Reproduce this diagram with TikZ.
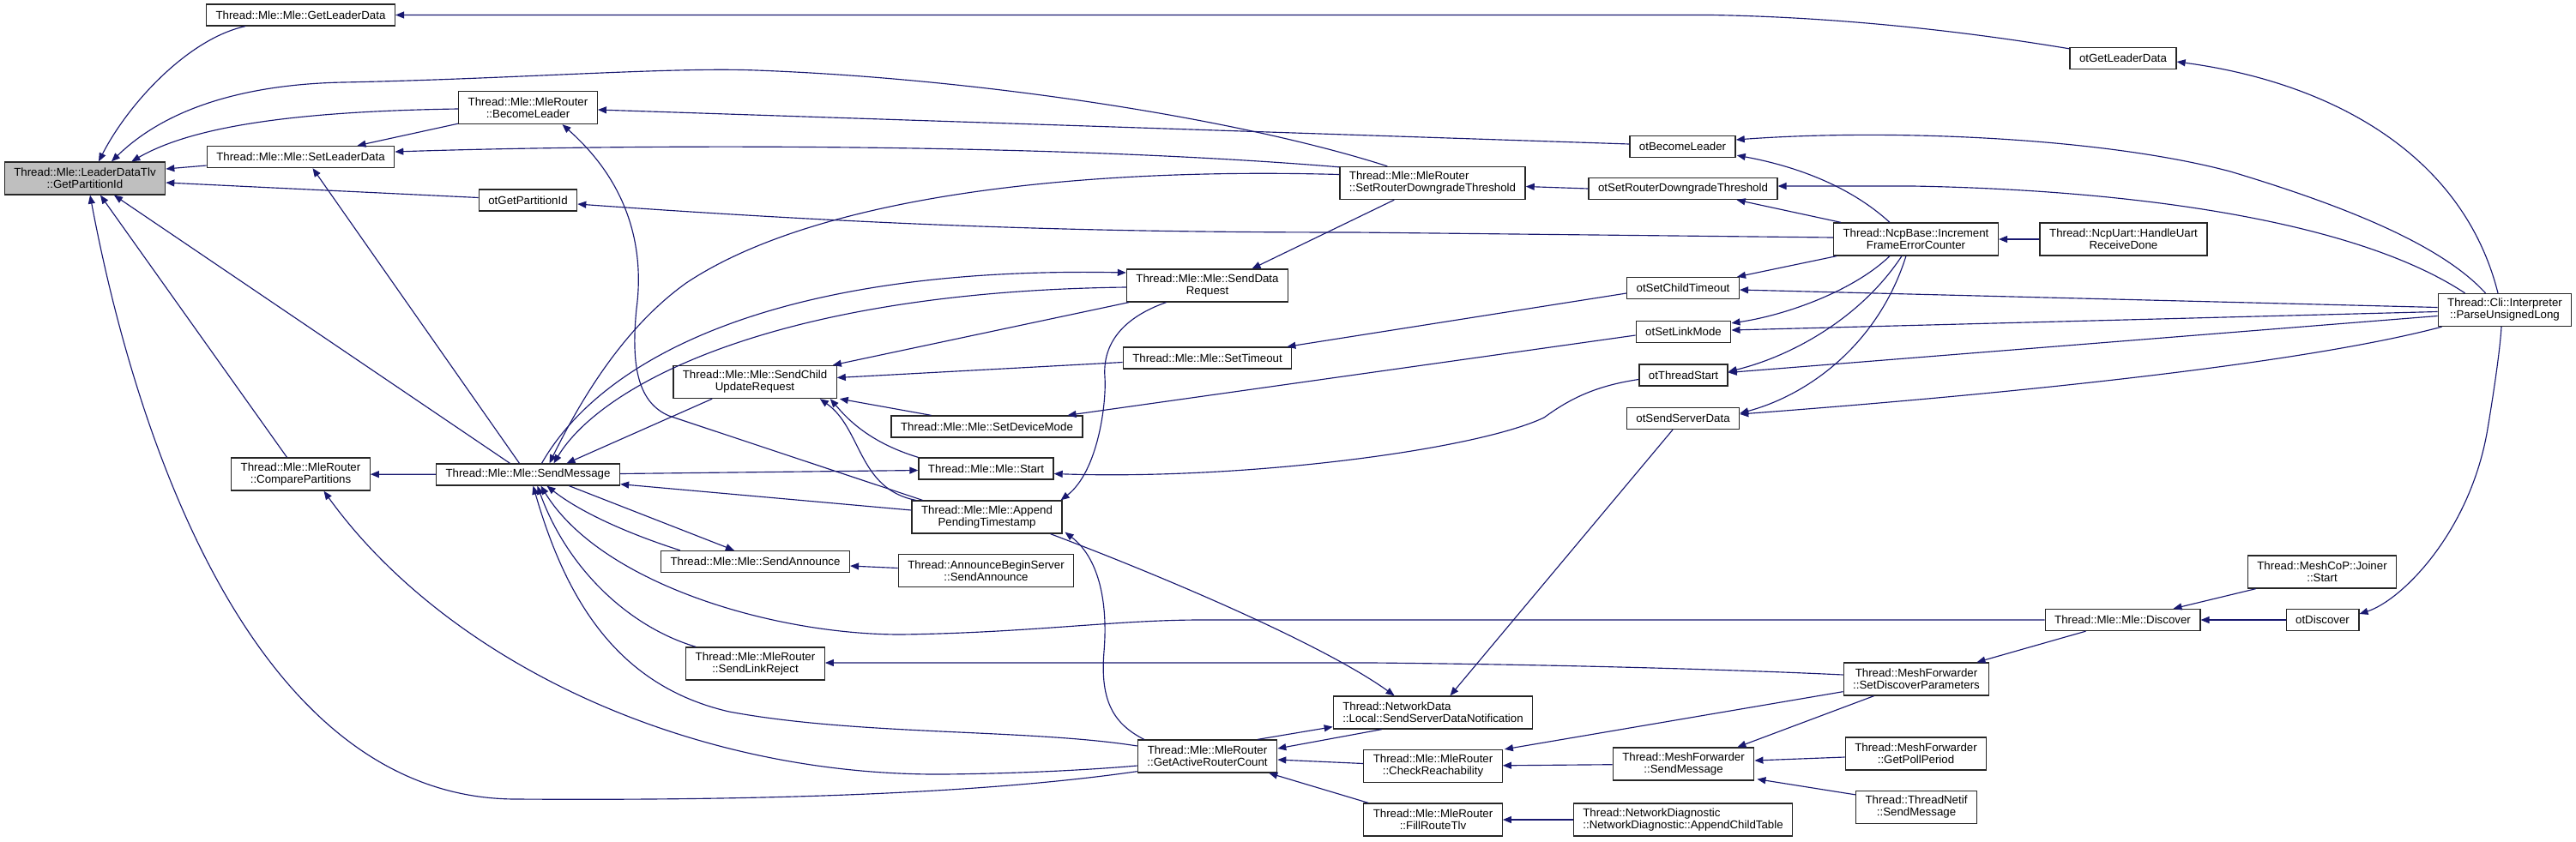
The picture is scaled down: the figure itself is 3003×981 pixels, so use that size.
\documentclass[tikz,border=0pt]{standalone}
\usepackage{fontspec}
\setmainfont{Liberation Sans}
\usetikzlibrary{arrows.meta,calc}
\definecolor{edgeblue}{RGB}{25,25,112}
\definecolor{rootgray}{RGB}{191,191,191}

\begin{document}
\begin{tikzpicture}[x=0.02cm, y=-0.02cm,
    fn/.style={draw=black!85, line width=0.75pt, fill=white, font=\fontsize{7.56}{7.95}\selectfont,
        inner xsep=0.22cm, inner ysep=1pt, minimum height=0.5cm, align=center},
    fn2/.style={fn, minimum height=0.76cm},
    call/.style={<-, >={Triangle[length=0.2cm, width=0.16cm]}, draw=edgeblue, line width=0.65pt}]

    \useasboundingbox (0,0) rectangle (3003,981);

    % Function boxes, column by column (one column per call depth)
    \node[fn2, fill=rootgray] (root) at (99,208) {Thread::Mle::LeaderDataTlv\\::GetPartitionId};

    \node[fn] (gld) at (350.5,17.5) {Thread::Mle::Mle::GetLeaderData};
    \node[fn] (sld) at (350.5,183) {Thread::Mle::Mle::SetLeaderData};
    \node[fn2] (cp) at (350.5,553) {Thread::Mle::MleRouter\\::ComparePartitions};

    \node[fn2] (bl) at (615.5,125.5) {Thread::Mle::MleRouter\\::BecomeLeader};
    \node[fn] (otgpi) at (615.5,233.5) {otGetPartitionId};
    \node[fn] (sm) at (615.5,553.5) {Thread::Mle::Mle::SendMessage};

    \node[fn2] (scur) at (880,445.5) {Thread::Mle::Mle::SendChild\\UpdateRequest};
    \node[fn] (sa) at (880.5,655) {Thread::Mle::Mle::SendAnnounce};
    \node[fn2] (slr) at (880.5,774) {Thread::Mle::MleRouter\\::SendLinkReject};

    \node[fn] (sdm) at (1150.5,497.5) {Thread::Mle::Mle::SetDeviceMode};
    \node[fn] (start) at (1149.5,546.5) {Thread::Mle::Mle::Start};
    \node[fn2] (apt) at (1150.5,603) {Thread::Mle::Mle::Append\\PendingTimestamp};
    \node[fn2] (abs) at (1149.5,665.5) {Thread::AnnounceBeginServer\\::SendAnnounce};

    \node[fn2] (sdr) at (1407.5,333) {Thread::Mle::Mle::SendData\\Request};
    \node[fn] (st) at (1407.5,417.5) {Thread::Mle::Mle::SetTimeout};
    \node[fn2] (garc) at (1407.5,882) {Thread::Mle::MleRouter\\::GetActiveRouterCount};

    \node[fn2, align=left] (srdt) at (1670,213.5) {Thread::Mle::MleRouter\\::SetRouterDowngradeThreshold};
    \node[fn2, align=left] (ssdn) at (1670.5,831) {Thread::NetworkData\\::Local::SendServerDataNotification};
    \node[fn2] (cr) at (1670.5,893.5) {Thread::Mle::MleRouter\\::CheckReachability};
    \node[fn2] (frt) at (1670.5,956) {Thread::Mle::MleRouter\\::FillRouteTlv};

    \node[fn] (otbl) at (1961.5,171) {otBecomeLeader};
    \node[fn] (otsrdt) at (1962,220) {otSetRouterDowngradeThreshold};
    \node[fn] (otsct) at (1962,336) {otSetChildTimeout};
    \node[fn] (otslm) at (1962.5,387) {otSetLinkMode};
    \node[fn] (otts) at (1962.5,437.5) {otThreadStart};
    \node[fn] (otssd) at (1962,488) {otSendServerData};
    \node[fn2] (mfsm) at (1962.5,891) {Thread::MeshForwarder\\::SendMessage};
    \node[fn2, align=left] (act) at (1962,956) {Thread::NetworkDiagnostic\\::NetworkDiagnostic::AppendChildTable};

    \node[fn2] (fec) at (2233.5,279) {Thread::NcpBase::Increment\\FrameErrorCounter};
    \node[fn2] (sdp) at (2234,792) {Thread::MeshForwarder\\::SetDiscoverParameters};
    \node[fn2] (gpp) at (2233.5,879) {Thread::MeshForwarder\\::GetPollPeriod};
    \node[fn2] (tnsm) at (2234,941.5) {Thread::ThreadNetif\\::SendMessage};

    \node[fn] (otgld) at (2475,68) {otGetLeaderData};
    \node[fn2] (uart) at (2475.5,279) {Thread::NcpUart::HandleUart\\ReceiveDone};
    \node[fn] (disc) at (2474.5,723) {Thread::Mle::Mle::Discover};

    \node[fn2] (joiner) at (2707,667) {Thread::MeshCoP::Joiner\\::Start};
    \node[fn] (otdisc) at (2707.5,723) {otDiscover};

    \node[fn2] (pul) at (2920,361.5) {Thread::Cli::Interpreter\\::ParseUnsignedLong};

    % Straight calls between boxes on one row
    \foreach \callee/\caller in {cp/sm, cr/mfsm, frt/act, fec/uart, disc/otdisc}
        \draw[call] (\callee) -- (\caller);

    % Callers of GetPartitionId
    \draw[call] ($(root.north)+(16,0)$) .. controls (150,120) and (220,45) .. ($(gld.south west)+(46,0)$);
    \draw[call] ($(root.north)+(31,0)$) .. controls (200,120) and (300,98) .. (400,96)
        .. controls (600,92) and (780,78) .. (882,82)
        .. controls (1150,92) and (1450,140) .. ($(srdt.north west)+(56,0)$);
    \draw[call] ($(root.north east)+(-40,0)$) .. controls (220,150) and (330,130) .. ($(bl.west)+(0,1.5)$);
    \draw[call] ($(root.east)+(0,-11)$) -- ($(sld.west)+(0,10)$);
    \draw[call] ($(root.east)+(0,5)$) -- ($(otgpi.west)+(0,-3)$);
    \draw[call] ($(root.south)+(34,0)$) -- ($(sm.north)+(-21,0)$);
    \draw[call] ($(root.south)+(18,0)$) -- ($(cp.north)+(-16,0)$);
    \draw[call] ($(root.south)+(6,0)$) .. controls (160,520) and (300,932) .. (602,932)
        .. controls (900,934) and (1150,925) .. ($(garc.south west)+(0,-2)$);

    % Second column
    \draw[call] (gld.east) -- (1994,17.5) .. controls (2150,20) and (2300,38) .. ($(otgld.north west)+(0,2)$);
    \draw[call] ($(sld.north)+(66,0)$) -- ($(bl.south west)+(0,-1)$);
    \draw[call] ($(sld.east)+(0,-6)$) .. controls (700,169) and (1200,165) .. ($(srdt.north west)+(0,1)$);
    \draw[call] ($(sld.south)+(14,0)$) -- ($(sm.north)+(-10,0)$);
    \draw[call] ($(cp.south)+(27,0)$) .. controls (520,770) and (800,905) .. (1100,903)
        .. controls (1200,902) and (1280,897) .. ($(garc.west)+(0,11)$);

    % Third column
    \draw[call] ($(bl.east)+(0,2.5)$) -- ($(otbl.west)+(0,-3)$);
    \draw[call] ($(bl.south)+(40,0)$) .. controls (740,220) and (750,300) .. (742,360)
        .. controls (735,430) and (745,470) .. (780,485) -- ($(apt.north west)+(13,0)$);
    \draw[call] ($(otgpi.east)+(0,4.5)$) .. controls (1050,265) and (1300,271) .. (1580,271) -- ($(fec.west)+(0,-2)$);

    % Callers of SendMessage (and its two-way calls)
    \draw[call] ($(sm.north)+(25,0)$) .. controls (680,460) and (730,380) .. (800,330)
        .. controls (950,230) and (1250,195) .. ($(srdt.west)+(0,-10)$);
    \draw[call] ($(sm.north)+(30,0)$) .. controls (700,450) and (900,340) .. ($(sdr.west)+(0,2)$);
    \draw[call] ($(sdr.west)+(0,-15)$) .. controls (900,310) and (700,420) .. ($(sm.north)+(16,0)$);
    \draw[call] ($(sm.north)+(45,0)$) -- ($(scur.south west)+(46,0)$);
    \draw[call] ($(start.west)+(0,2)$) -- ($(sm.east)+(0,-1)$);
    \draw[call] ($(sm.south east)+(0,-2)$) -- ($(apt.west)+(0,-8)$);
    \draw[call] ($(sa.north west)+(86,0)$) -- ($(sm.south)+(48,0)$);
    \draw[call] ($(sm.south)+(22,0)$) .. controls (680,600) and (740,625) .. ($(sa.north west)+(23,0)$);
    \draw[call] ($(sm.south)+(15,0)$) .. controls (700,680) and (900,740) .. (1050,740)
        .. controls (1200,738) and (1300,723) .. (1400,723) -- (disc.west);
    \draw[call] ($(sm.south)+(11,0)$) .. controls (660,660) and (730,730) .. ($(slr.north west)+(12,0)$);
    \draw[call] ($(sm.south)+(6,0)$) .. controls (660,700) and (720,800) .. (850,830)
        .. controls (1000,858) and (1200,850) .. ($(garc.west)+(0,-12)$);

    % Fourth column
    \draw[call] ($(scur.north east)+(-5,0)$) -- ($(sdr.south west)+(3,0)$);
    \draw[call] ($(scur.east)+(0,-5)$) -- ($(st.west)+(0,5)$);
    \draw[call] ($(scur.south east)+(3,0)$) -- ($(sdm.north west)+(47,0)$);
    \draw[call] ($(scur.south east)+(-8,0)$) .. controls (985,485) and (1010,515) .. (start.north west);
    \draw[call] ($(scur.south east)+(-20,0)$) .. controls (1005,500) and (1000,570) .. ($(apt.north west)+(5,0)$);
    \draw[call] ($(sa.east)+(0,5)$) -- ($(abs.west)+(0,-3)$);
    \draw[call] ($(slr.east)+(0,-1)$) -- (1600,773) .. controls (1800,775) and (2000,780) .. ($(sdp.west)+(0,-5)$);

    % Fifth column
    \draw[call] ($(sdm.north east)+(-18,0)$) -- ($(otslm.west)+(0,4)$);
    \draw[call] ($(start.east)+(0,6)$) .. controls (1450,560) and (1720,525) .. (1800,487)
        .. controls (1830,465) and (1860,450) .. ($(otts.west)+(0,5)$);
    \draw[call] ($(apt.north east)+(-2,0)$) .. controls (1280,550) and (1290,470) .. (1288,440)
        .. controls (1285,400) and (1310,370) .. ($(sdr.south)+(-48,0)$);
    \draw[call] ($(apt.south east)+(3,-2)$) .. controls (1280,650) and (1292,700) .. (1287,760)
        .. controls (1282,820) and (1300,845) .. ($(garc.north west)+(8,0)$);
    \draw[call] ($(ssdn.north west)+(72,0)$) .. controls (1540,750) and (1350,670) .. ($(apt.south east)+(-14,0)$);

    % Sixth column
    \draw[call] ($(sdr.north)+(52,0)$) -- ($(srdt.south west)+(64,0)$);
    \draw[call] ($(st.north east)+(-6,0)$) -- ($(otsct.west)+(0,6)$);
    \draw[call] ($(ssdn.south west)+(0,-3)$) -- ($(garc.north east)+(-23,0)$);
    \draw[call] ($(garc.east)+(0,-9)$) -- ($(ssdn.south west)+(57,0)$);
    \draw[call] ($(garc.east)+(0,4)$) -- ($(cr.west)+(0,-3)$);
    \draw[call] ($(garc.south east)+(-10,0)$) -- ($(frt.north west)+(6,0)$);

    % Seventh column
    \draw[call] ($(srdt.east)+(0,4)$) -- (otsrdt.west);
    \draw[call] ($(ssdn.north)+(20,0)$) -- ($(otssd.south)+(-12,0)$);
    \draw[call] ($(cr.north east)+(2,0)$) -- ($(sdp.south west)+(0,-5)$);

    % Eighth column
    \draw[call] ($(otbl.east)+(0,-8)$) .. controls (2200,150) and (2450,160) .. (2600,200)
        .. controls (2750,245) and (2850,290) .. ($(pul.north west)+(56,0)$);
    \draw[call] ($(otbl.south east)+(1,-3)$) .. controls (2100,195) and (2160,220) .. ($(fec.north west)+(66,0)$);
    \draw[call] ($(otsrdt.east)+(0,-3)$) -- (2230,217) .. controls (2500,222) and (2750,260) .. ($(pul.north west)+(32,0)$);
    \draw[call] ($(otsrdt.south east)+(-48,0)$) -- ($(fec.north west)+(9,0)$);
    \draw[call] ($(otsct.north east)+(-3,0)$) -- ($(fec.south west)+(4,0)$);
    \draw[call] ($(otsct.east)+(0,2)$) -- ($(pul.west)+(0,-3)$);
    \draw[call] ($(otslm.north east)+(0,3)$) .. controls (2080,368) and (2160,340) .. ($(fec.south west)+(66,0)$);
    \draw[call] ($(otslm.east)+(0,-2)$) -- ($(pul.west)+(0,2)$);
    \draw[call] ($(otts.east)+(0,-4)$) .. controls (2090,415) and (2170,370) .. ($(fec.south west)+(80,0)$);
    \draw[call] ($(otts.east)+(0,-3)$) -- ($(pul.west)+(0,7)$);
    \draw[call] ($(otssd.east)+(0,-6)$) .. controls (2110,460) and (2190,400) .. ($(fec.south west)+(85,0)$);
    \draw[call] ($(otssd.east)+(0,-5)$) .. controls (2400,455) and (2700,420) .. ($(pul.south west)+(5,0)$);
    \draw[call] ($(mfsm.north east)+(-20,0)$) -- ($(sdp.south west)+(36,0)$);
    \draw[call] ($(mfsm.east)+(0,-4)$) -- ($(gpp.west)+(0,4)$);
    \draw[call] ($(mfsm.south east)+(3,-2)$) -- ($(tnsm.north west)+(0,5)$);

    % Right-hand columns
    \draw[call] ($(sdp.north east)+(-15,0)$) -- ($(disc.south west)+(48,0)$);
    \draw[call] ($(disc.north east)+(-32,0)$) -- ($(joiner.south west)+(10,0)$);
    \draw[call] ($(otgld.east)+(0,4)$) .. controls (2710,95) and (2870,175) .. ($(pul.north)+(-8,0)$);
    \draw[call] ($(otdisc.east)+(0,-7)$) .. controls (2800,700) and (2880,620) .. (2900,500)
        .. controls (2910,440) and (2915,400) .. ($(pul.south)+(-4,0)$);

\end{tikzpicture}
\end{document}
